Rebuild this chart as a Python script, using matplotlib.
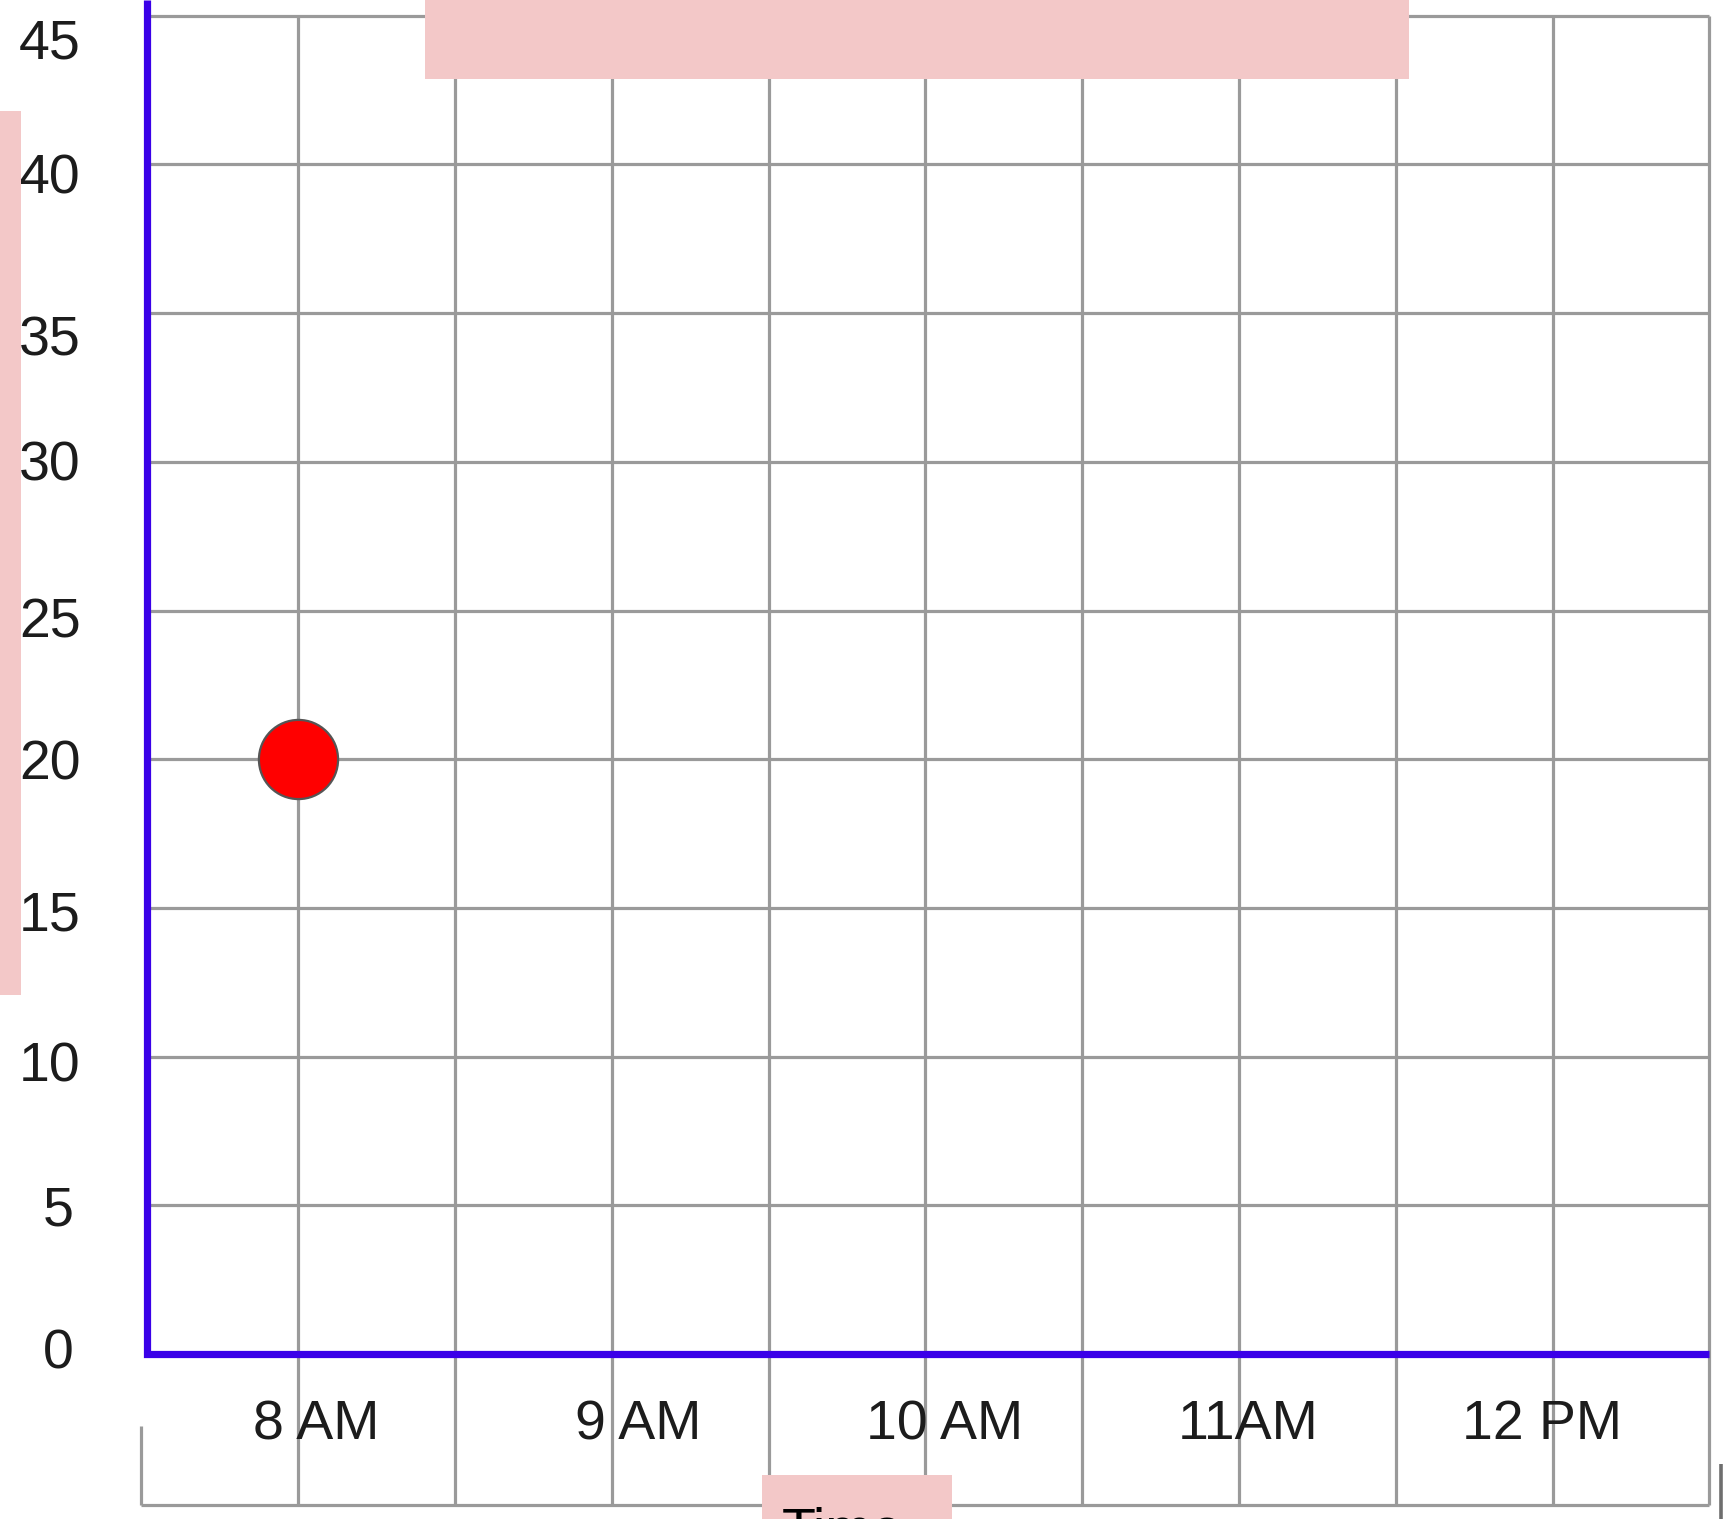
import matplotlib
matplotlib.use("Agg")
import matplotlib.pyplot as plt
from matplotlib.patches import Rectangle

plt.rcParams['font.family'] = ['Liberation Sans', 'DejaVu Sans']

# ---------------- data ----------------
point_hours = [8.0]          # 8 AM
point_values = [20]
x_tick_hours = [8, 9, 10, 11, 12]
x_tick_labels = ["8 AM", "9 AM", "10 AM", "11AM", "12 PM"]
y_tick_values = [0, 5, 10, 15, 20, 25, 30, 35, 40, 45]
y_tick_labels = ["0", "5", "10", "15", "20", "25", "30", "35", "40", "45"]
grid_hours = [7.5, 8.0, 8.5, 9.0, 9.5, 10.0, 10.5, 11.0, 11.5, 12.0, 12.5]
x_label = "Time"

# ---------------- layout / style ----------------
W, H, DPI = 1733, 1519, 100
XLIM = (7.0488, 12.575)
YLIM = (-5.548, 45.53)
AXIS_X = 7.5175                     # drawn (blue) y-axis position
x_label_nudge = [0.056, 0.083, 0.062, 0.028, -0.034]
y_label_nudge = [0.17, 0.0, -0.15, -0.1, 0.0, -0.22, 0.06, -0.74, -0.29, -0.77]
y_label_x = [7.2357, 7.2357, 7.2082, 7.2082, 7.2082, 7.2082, 7.2082, 7.2082, 7.2082, 7.2082]
GRID_C = '#9a9a9a'
BLUE = '#3A00E8'
PINK = '#F3C8C8'
TXT = '#1c1c1c'
FS = 40
grid_bottom = -5.08

fig = plt.figure(figsize=(W / DPI, H / DPI), dpi=DPI)
fig.patch.set_facecolor('white')
ax = fig.add_axes([0, 0, 1, 1])
ax.set_xlim(*XLIM)
ax.set_ylim(*YLIM)
ax.axis('off')

# grid
ax.vlines(grid_hours[1:], grid_bottom, y_tick_values[-1], color=GRID_C, lw=2.3, zorder=1)
ax.hlines(y_tick_values[1:], AXIS_X, grid_hours[-1], color=GRID_C, lw=2.3, zorder=1)
ax.hlines(grid_bottom, grid_hours[0], grid_hours[-1], color=GRID_C, lw=2.3, zorder=1)
ax.vlines(grid_hours[0], grid_bottom, -2.42, color=GRID_C, lw=2.3, zorder=1)
ax.vlines(grid_hours[-1] + 0.037, YLIM[0], -3.70, color='#6e6e6e', lw=2.6, zorder=1)

# blue axes
ax.plot([AXIS_X, AXIS_X, grid_hours[-1]], [YLIM[1], 0, 0],
        color=BLUE, lw=5.2, solid_joinstyle='miter', solid_capstyle='butt', zorder=3)

# data point
ax.plot(point_hours, point_values, 'o', ms=57, mfc='#FF0000', mec='#555555',
        mew=1.6, zorder=5)

# tick labels
for h, lab, dx in zip(x_tick_hours, x_tick_labels, x_label_nudge):
    ax.text(h + dx, -2.19, lab, ha='center', va='center_baseline',
            fontsize=FS, color=TXT, zorder=4)
for v, lab, dy, xx in zip(y_tick_values, y_tick_labels, y_label_nudge, y_label_x):
    ax.text(xx, v + dy, lab, ha='center', va='center_baseline',
            fontsize=FS, color=TXT, zorder=4)

# redaction boxes
def box(x0, y0, x1, y1):
    fig.add_artist(Rectangle((x0 / W, 1 - y1 / H), (x1 - x0) / W, (y1 - y0) / H,
                             transform=fig.transFigure, facecolor=PINK,
                             edgecolor='none', zorder=10))

box(425, 0, 1409, 79)
box(0, 111, 21, 995)
box(762, 1475, 952, 1519)

# axis title, mostly cut off by the bottom edge as in the reference
fig.text(782 / W, 1 - 1547 / H, x_label, ha='left', va='baseline', fontsize=FS,
         color='black', zorder=11)

fig.savefig('out.png', dpi=DPI)
